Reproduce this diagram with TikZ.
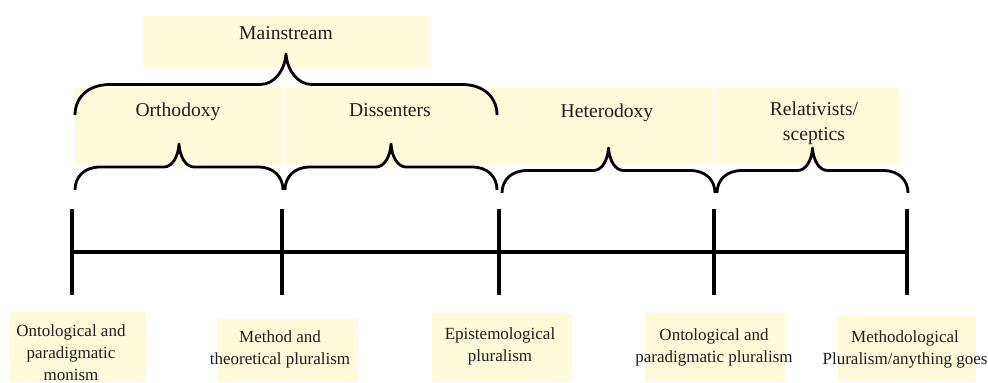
\documentclass[tikz,border=0pt]{standalone}
\usepackage{fontspec}
\setmainfont{Liberation Serif}
\usetikzlibrary{positioning,fit}
\definecolor{boxyel}{RGB}{255,250,218}
\definecolor{inkgr}{RGB}{30,30,30}
% curly brace: x1, x2, y of the ends, half height, end width, cusp width
\newcommand{\curlyb}[6]{%
  \pgfmathsetmacro{\cxm}{(#1+#2)/2}
  \draw[brc] (#1,#3) .. controls (#1,{#3-0.55*#4}) and ({#1+0.35*#5},{#3-#4}) .. ({#1+#5},{#3-#4})
    -- ({\cxm-#6},{#3-#4}) .. controls ({\cxm-0.45*#6},{#3-#4}) and ({\cxm-0.05*#6},{#3-1.45*#4}) .. (\cxm,{#3-2*#4})
    .. controls ({\cxm+0.05*#6},{#3-1.45*#4}) and ({\cxm+0.45*#6},{#3-#4}) .. ({\cxm+#6},{#3-#4})
    -- ({#2-#5},{#3-#4}) .. controls ({#2-0.35*#5},{#3-#4}) and (#2,{#3-0.55*#4}) .. (#2,#3);}

\begin{document}
\begin{tikzpicture}[x=0.5pt, y=-0.5pt,
	ybox/.style={fill=boxyel, inner sep=0pt},
	toplbl/.style={font=\fontsize{9.8}{12.5}\selectfont, text=inkgr, anchor=base, align=center},
	lowlbl/.style={font=\fontsize{8.5}{11}\selectfont, text=inkgr, anchor=base, align=center},
	brc/.style={line width=1.4pt, line join=round},
	tickln/.style={line width=2pt}]
	\useasboundingbox (0,0) rectangle (988,382);
	% yellow boxes
	\node[ybox, fit={(143,16) (430,67)}] (mainbox) {};
	\node[ybox, fit={(75,88) (283,165)}] (orthbox) {};
	\node[ybox, fit={(285,88) (497,165)}] (dissbox) {};
	\node[ybox, fit={(497,88) (713,163)}] (hetbox) {};
	\node[ybox, fit={(715,88) (899,163)}] (relbox) {};
	\node[ybox, fit={(10,312) (146,382)}] (monbox) {};
	\node[ybox, fit={(218,319) (358,382)}] (methbox) {};
	\node[ybox, fit={(432,313) (572,382)}] (epibox) {};
	\node[ybox, fit={(645,313) (785,382)}] (ontbox) {};
	\node[ybox, fit={(838,315) (976,382)}] (anybox) {};
	% labels (base = last line)
	\node[toplbl] (mainstream) at (286,39) {Mainstream};
	\node[toplbl] (orthodoxy) at (178,116) {Orthodoxy};
	\node[toplbl] (dissenters) at (390,116) {Dissenters};
	\node[toplbl] (heterodoxy) at (607,117) {Heterodoxy};
	\node[toplbl] (relativists) at (814,140) {Relativists/\\sceptics};
	\node[lowlbl] (monism) at (71,380) {Ontological and\\paradigmatic\\monism};
	\node[lowlbl] (method) at (280,364) {Method and\\theoretical pluralism};
	\node[lowlbl] (episte) at (500,361) {Epistemological\\pluralism};
	\node[lowlbl] (ontolog) at (714,362) {Ontological and\\paradigmatic pluralism};
	\node[lowlbl] (anything) at (905,364) {Methodological\\Pluralism/anything goes};
	% braces
	\curlyb{75}{497}{115}{30.5}{35}{26}
	\curlyb{75}{283}{190}{23}{25}{15}
	\curlyb{285}{497}{190}{23}{25}{15}
	\curlyb{502}{715}{193}{22.5}{25}{15}
	\curlyb{717}{908}{193}{22.5}{25}{15}
	% scale
	\foreach \tx [count=\i] in {72,282,499,714,907} {
		\coordinate (tk\i a) at (\tx,209);
		\coordinate (tk\i b) at (\tx,295);
		\coordinate (ln\i) at (\tx,252);
		\draw[tickln] (tk\i a) -- (tk\i b);
	}
	\draw[tickln] (ln1) -- (ln5);
\end{tikzpicture}
\end{document}
